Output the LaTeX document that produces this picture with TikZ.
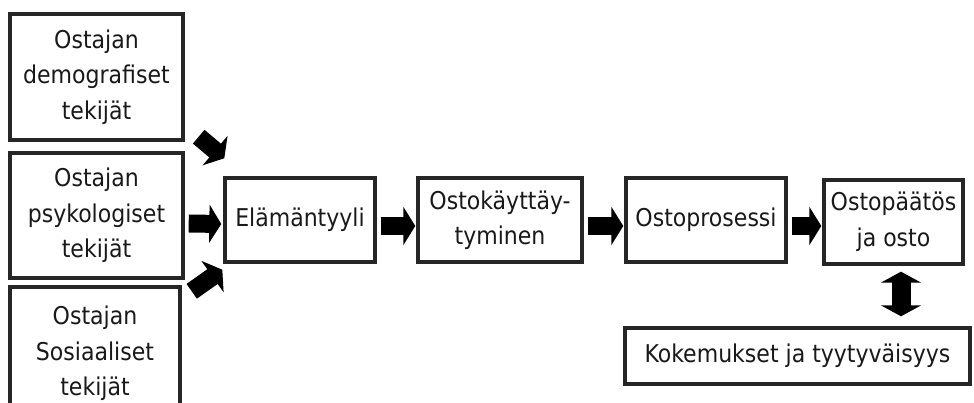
\documentclass[tikz,border=0pt]{standalone}
\usepackage{fontspec}
\setmainfont{DejaVu Sans Condensed}
\usetikzlibrary{arrows.meta}
\begin{document}
\begin{tikzpicture}[x=1pt,y=1pt,
  box/.style={draw=black!85, line width=3.4pt, align=center, inner sep=0pt,
    text=black!90, font=\fontsize{24.5}{35.5}\selectfont},
  barrow/.style={line width=18pt, -{Triangle[width=38pt,length=12pt]}},
  dbarrow/.style={line width=19pt, {Triangle[width=40pt,length=11pt]}-{Triangle[width=40pt,length=11pt]}}]
\useasboundingbox (0,0) rectangle (974,403);
\clip (0,0) rectangle (974,403);
\node[box, minimum width=173pt, minimum height=126pt] (b1) at (96.5,326) {Ostajan\\demografiset\\tekijät};
\node[box, minimum width=173pt, minimum height=125pt] (b2) at (96.5,187.5) {Ostajan\\psykologiset\\tekijät};
\node[box, minimum width=170pt, minimum height=133pt] (b3) at (95,49.5) {Ostajan\\Sosiaaliset\\tekijät};
\node[box, minimum width=150pt, minimum height=84pt] (e) at (300,183) {Elämäntyyli};
\node[box, minimum width=164pt, minimum height=84pt] (o1) at (500,183) {Ostokäyttäy-\\tyminen};
\node[box, minimum width=160pt, minimum height=84pt] (o2) at (706,183) {Ostoprosessi};
\node[box, minimum width=139pt, minimum height=84pt] (o3) at (893.5,181) {Ostopäätös\\ja osto};
\node[box, minimum width=345pt, minimum height=56pt] (k) at (797.5,47) {Kokemukset ja tyytyväisyys};
\draw[barrow] ([shift={(14pt,5pt)}]b1.south east) -- ([shift={(1pt,18pt)}]e.north west);
\draw[barrow] ([shift={(4pt,-8pt)}]b2.east) -- ([shift={(-2pt,-4pt)}]e.west);
\draw[barrow] ([shift={(10pt,-6pt)}]b3.north east) -- ([shift={(-1pt,-6pt)}]e.south west);
\draw[barrow] ([shift={(4pt,-6pt)}]e.east) -- ([shift={(-1pt,-6pt)}]o1.west);
\draw[barrow] ([shift={(4pt,-6pt)}]o1.east) -- ([shift={(-1pt,-6pt)}]o2.west);
\draw[barrow] ([shift={(4pt,-6pt)}]o2.east) -- ([shift={(-1pt,-4pt)}]o3.west);
\draw[dbarrow] ([shift={(7.5pt,-6pt)}]o3.south) -- ([shift={(7.5pt,10pt)}]o3.south |- k.north);
\end{tikzpicture}
\end{document}
